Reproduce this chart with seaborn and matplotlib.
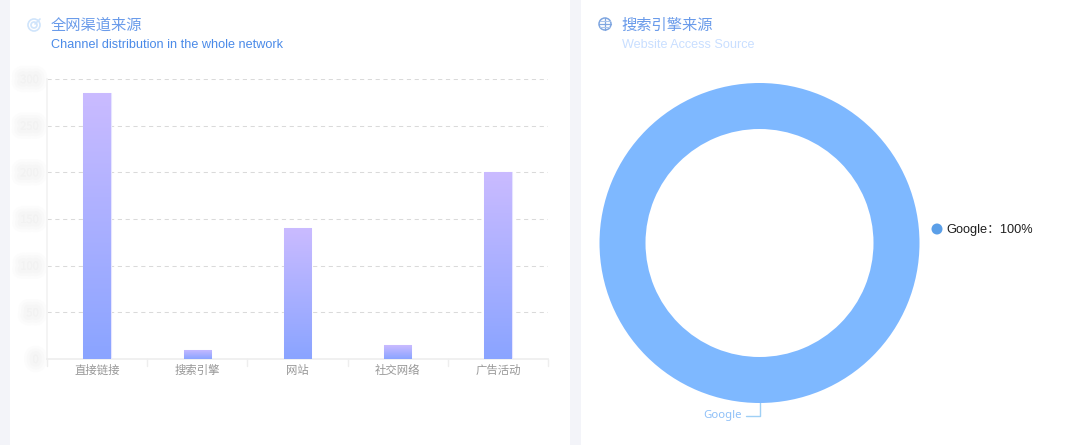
import numpy as np
import matplotlib
matplotlib.use('Agg')
import matplotlib.pyplot as plt
import matplotlib.patheffects as pe
from matplotlib.colors import LinearSegmentedColormap
from matplotlib.patches import Circle, Rectangle
import seaborn as sns

# =============================================================================
# Data
# =============================================================================
channels = ['直接链接', '搜索引擎', '网站', '社交网络', '广告活动']
channel_values = [285, 10, 140, 15, 200]
y_ticks = [0, 50, 100, 150, 200, 250, 300]

engine_names = ['Google']
engine_values = [100]

W, H = 1080, 445

sns.set_theme(style='white')
plt.rcParams['font.family'] = ['Noto Sans CJK SC', 'DejaVu Sans']

fig = plt.figure(figsize=(W / 100, H / 100), dpi=100, facecolor='#f3f4f9')


def box(x0, y_top, x1, y_bottom):
    # pixel box (origin top left) to figure fractions
    return [x0 / W, 1 - y_bottom / H, (x1 - x0) / W, (y_bottom - y_top) / H]


# =============================================================================
# Page layer: white cards, titles, icons
# =============================================================================
page = fig.add_axes([0, 0, 1, 1], zorder=0)
page.set_xlim(0, W)
page.set_ylim(H, 0)
page.axis('off')
page.add_patch(Rectangle((10, 0), 560, H, color='white', lw=0))
page.add_patch(Rectangle((581, 0), 499, H, color='white', lw=0))

page.text(51, 25, '全网渠道来源', fontsize=11, color='#6a9bea', va='center')
page.text(51, 45.5, 'Channel distribution in the whole network', fontsize=9.1,
          color='#4a8ae8', va='center', family=['Liberation Sans'])
page.text(621.5, 25, '搜索引擎来源', fontsize=11, color='#6a9bea', va='center')
page.text(622, 45.5, 'Website Access Source', fontsize=9.1, color='#c9dfff',
          va='center', family=['Liberation Sans'])

# target icon
for r, c in [(6, '#cfe4fb'), (3, '#cfe4fb')]:
    page.add_patch(Circle((34, 25), r, fill=False, ec=c, lw=1.2))
page.plot([35, 40], [24, 19], color='#cfe4fb', lw=1.2)

# globe icon
page.add_patch(Circle((605, 24), 6, fill=False, ec='#7fa6e0', lw=1.1))
page.plot([599, 611], [24, 24], color='#7fa6e0', lw=0.9)
page.plot([605, 605], [18, 30], color='#7fa6e0', lw=0.9)
page.plot([600, 610], [21, 21], color='#a9c4ec', lw=0.8)
page.plot([600, 610], [27, 27], color='#a9c4ec', lw=0.8)

# =============================================================================
# Bars
# =============================================================================
ax = fig.add_axes(box(47, 79, 548, 359), zorder=1)
ax.patch.set_alpha(0)
sns.barplot(x=channels, y=channel_values, ax=ax, width=0.275, color='#aaaaff',
            edgecolor='#e6e4ff', linewidth=0.8, saturation=1, zorder=3)
ax.set_ylim(y_ticks[0], y_ticks[-1])
ax.set_xlim(-0.5, len(channels) - 0.5)
ax.set_yticks(y_ticks)
ax.yaxis.grid(True, color='#dadada', ls=(0, (4, 3.5)), lw=0.75)
ax.set_axisbelow(True)

# the y labels are smudged in the original, so pale text with a soft halo
ax.tick_params(axis='y', length=0, pad=6, labelsize=8, labelcolor='#f2f2f2')
for lab in ax.get_yticklabels():
    lab.set_path_effects([pe.withStroke(linewidth=13, foreground='#fcfcfc'),
                          pe.withStroke(linewidth=9, foreground='#f9f9f9'),
                          pe.withStroke(linewidth=5, foreground='#f6f6f6'),
                          pe.Normal()])

ax.tick_params(axis='x', length=0, pad=4, labelsize=8.2, labelcolor='#979797')
for pos in ['top', 'right']:
    ax.spines[pos].set_visible(False)
ax.spines['left'].set_color('#f3f3f3')
ax.spines['bottom'].set_color('#eeeeee')

# category separators below the axis
for x in np.arange(len(channels) + 1) - 0.5:
    ax.plot([x, x], [0, -0.025], transform=ax.get_xaxis_transform(),
            color='#eeeeee', lw=1, clip_on=False)

# vertical gradient per bar, clipped on the seaborn bars
grad = LinearSegmentedColormap.from_list('bar', ['#8aa4ff', '#cabbff'])
for bar in list(ax.patches):
    x0, w, h = bar.get_x(), bar.get_width(), bar.get_height()
    im = ax.imshow(np.linspace(1, 0, 128).reshape(-1, 1), cmap=grad, vmin=0, vmax=1,
                   extent=[x0, x0 + w, 0, h], aspect='auto', zorder=4)
    im.set_clip_path(bar)
ax.set_xlim(-0.5, len(channels) - 0.5)
ax.set_ylim(y_ticks[0], y_ticks[-1])

# =============================================================================
# Donut
# =============================================================================
cx, cy, r_out = 759.5, 243, 160
pie_ax = fig.add_axes(box(cx - r_out, cy - r_out, cx + r_out, cy + r_out), zorder=1)
pie_ax.pie(engine_values, colors=['#7eb8ff'], radius=1, startangle=90,
           wedgeprops={'width': 46 / r_out, 'linewidth': 0})
pie_ax.set_xlim(-1, 1)
pie_ax.set_ylim(-1, 1)

# leader line and outer label
page.plot([759.5, 759.5, 746], [402, 416, 416], color='#9fd0f5', lw=1)
page.text(722, 415.5, engine_names[0], fontsize=8.2, color='#8fc0f8', ha='center',
          va='center', family=['Noto Sans'])

# legend
page.add_patch(Circle((937, 229), 5.5, color='#5b9fe8', lw=0))
page.text(946.5, 230, f'{engine_names[0]}：{engine_values[0]}%', fontsize=9.2,
          color='#1f1f1f', va='center', family=['Liberation Sans', 'Noto Sans CJK SC'])

fig.savefig('out.png', dpi=100, facecolor=fig.get_facecolor())
